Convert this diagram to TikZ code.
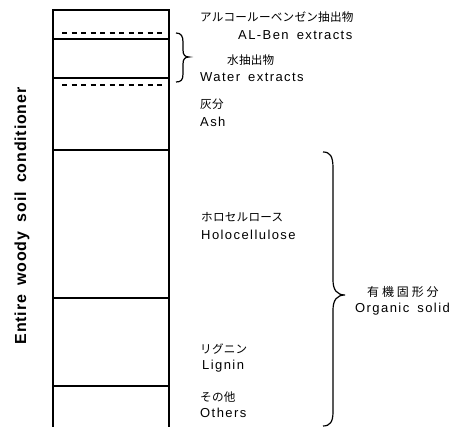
\documentclass[tikz,border=0pt]{standalone}
\usepackage{fontspec}
\setmainfont{Liberation Sans}
\newfontfamily\jp[LetterSpace=2]{Noto Sans CJK JP}
\newfontfamily\en[LetterSpace=11,WordSpace=1.6]{Liberation Sans}
\newfontfamily\enb[LetterSpace=5,WordSpace=1.8]{Liberation Sans}
\begin{document}
\begin{tikzpicture}[x=1pt,y=-1pt,
  jtxt/.style={anchor=west,inner sep=0pt,font=\jp\fontsize{11.6}{13}\selectfont},
  etxt/.style={anchor=west,inner sep=0pt,font=\en\fontsize{13}{14}\selectfont},
  solidline/.style={line width=1.5pt},
  dashline/.style={line width=1.7pt,dash pattern=on 5pt off 4.5pt},
  bracel/.style={line width=1.2pt}]
\useasboundingbox (0,0) rectangle (459,427);
% column
\draw[solidline] (53,427) -- (53,10) -- (169,10) -- (169,427);
\draw[dashline] (62,33) -- (166,33);
\draw[solidline] (53,39) -- (169,39);
\draw[solidline] (53,78) -- (169,78);
\draw[dashline] (62,85) -- (166,85);
\draw[solidline] (53,150) -- (169,150);
\draw[solidline] (53,298) -- (169,298);
\draw[solidline] (53,386) -- (169,386);
% vertical label
\node[rotate=90,inner sep=0pt,font=\enb\bfseries\fontsize{16}{17}\selectfont] (whole) at (22,216) {Entire woody soil conditioner};
% small brace
\coordinate (b1t) at (176,33);
\coordinate (b1m) at (189,57);
\coordinate (b1b) at (176,82);
\draw[bracel] (b1t) .. controls (181,33) and (183,36) .. (183,42) -- (183,50)
  .. controls (183,55) and (185,57) .. (b1m)
  .. controls (185,57) and (183,59) .. (183,64) -- (183,74)
  .. controls (183,80) and (181,82) .. (b1b);
% large brace
\coordinate (b2t) at (323,152);
\coordinate (b2m) at (345,295);
\coordinate (b2b) at (323,426);
\draw[bracel] (b2t) .. controls (330,152) and (333,156) .. (333,168) -- (333,280)
  .. controls (333,290) and (337,295) .. (b2m)
  .. controls (337,295) and (333,300) .. (333,310) -- (333,412)
  .. controls (333,422) and (330,426) .. (b2b);
% texts
\node[jtxt] (alj) at (200,17) {アルコールーベンゼン抽出物};
\node[etxt] (ale) at (238,35) {AL-Ben extracts};
\node[jtxt] (wj) at (227,60) {水抽出物};
\node[etxt] (we) at (200,77) {Water extracts};
\node[jtxt] (aj) at (200,104) {灰分};
\node[etxt] (ae) at (200,122) {Ash};
\node[jtxt] (hj) at (201,217) {ホロセルロース};
\node[etxt] (he) at (201,235) {Holocellulose};
\node[jtxt,font=\jp\addfontfeature{LetterSpace=24}\fontsize{12}{13}\selectfont] (oj) at (367,292) {有機固形分};
\node[etxt] (oe) at (355,309) {Organic solid};
\node[jtxt] (lj) at (200,349) {リグニン};
\node[etxt] (le) at (202,366) {Lignin};
\node[jtxt] (tj) at (200,397) {その他};
\node[etxt] (te) at (200,413) {Others};
\end{tikzpicture}
\end{document}
